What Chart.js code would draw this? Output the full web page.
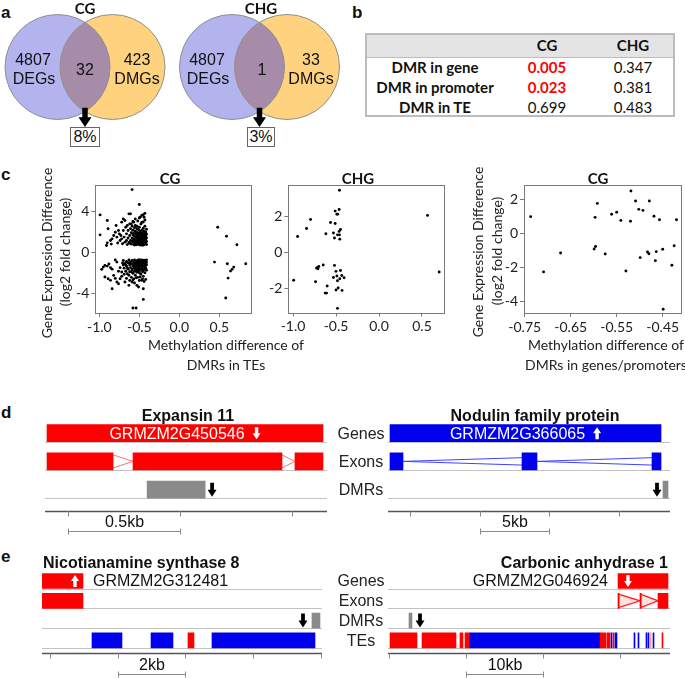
<!DOCTYPE html>
<html><head><meta charset="utf-8">
<script src="https://cdn.jsdelivr.net/npm/chart.js@4.4.0/dist/chart.umd.min.js"></script>
<style>
html,body{margin:0;padding:0;background:#fff;}
#root{position:relative;width:685px;height:679px;overflow:hidden;background:#fff;}
canvas{position:absolute;}
.t{position:absolute;white-space:nowrap;color:#111;}
.c{transform:translate(-50%,-50%);}
.r{transform:translate(-100%,-50%);}
.l{transform:translate(0,-50%);}
.box{position:absolute;border:1px solid #666;background:#fff;box-sizing:border-box;display:flex;align-items:center;justify-content:center;font:16px "Liberation Sans",Arial,sans-serif;color:#111;}
</style></head><body><div id="root"></div>
<script>
// ================= DATA =================
// Panel a (Venn)
const vennTitles = ['CG', 'CHG'];
const degCount = [4807, 4807];
const overlapCount = [32, 1];
const dmgCount = [423, 33];
const overlapPercent = ['8%', '3%'];

// Panel b (table of p-values)
const tableCols = ['CG', 'CHG'];
const tableRows = ['DMR in gene', 'DMR in promoter', 'DMR in TE'];
const pCG = [0.005, 0.023, 0.699];
const pCHG = [0.347, 0.381, 0.483];

// Panel c (scatter) [methylation difference, log2 fold change]
const cgTE = [
 [-0.59,6.17],[-0.50,4.71],[-0.99,3.70],[-0.90,3.15],[-0.89,2.34],[-0.99,1.75],[-0.90,0.97],[-0.91,0.71],[-0.84,1.36],[-0.82,1.69],
 [-0.80,2.01],[-0.79,2.66],[-0.76,2.18],[-0.74,1.20],[-0.72,2.99],[-0.70,3.31],[-0.68,3.15],[-0.73,1.69],[-0.65,2.66],[-0.63,3.80],
 [-0.61,3.80],[-0.60,2.82],[-0.57,2.99],[-0.55,2.66],[-0.53,2.34],[-0.47,3.64],[-0.45,3.72],[-0.43,3.85],[-0.49,3.47],[-0.44,3.47],
 [-0.86,1.20],[-0.78,1.53],[-0.77,0.95],[-0.85,0.85],[-0.75,1.85],[-0.72,1.36],[-0.71,0.88],[-0.70,2.18],[-0.69,1.53],[-0.68,1.04],
 [-0.67,2.50],[-0.66,1.85],[-0.66,1.20],[-0.65,0.80],[-0.64,2.18],[-0.64,1.45],[-0.63,1.00],[-0.62,2.82],[-0.62,1.69],[-0.61,2.34],
 [-0.61,1.20],[-0.60,0.85],[-0.60,1.95],[-0.59,2.60],[-0.59,1.45],[-0.58,1.04],[-0.58,1.75],[-0.58,2.20],[-0.57,0.80],[-0.57,1.36],
 [-0.57,1.90],[-0.56,1.10],[-0.56,1.60],[-0.56,2.45],[-0.55,0.90],[-0.55,1.25],[-0.55,1.85],[-0.55,2.10],[-0.54,0.78],[-0.54,1.50],
 [-0.54,1.00],[-0.54,2.00],[-0.53,1.15],[-0.53,1.70],[-0.53,0.85],[-0.53,2.60],[-0.52,1.40],[-0.52,0.95],[-0.52,1.95],[-0.52,1.20],
 [-0.51,0.80],[-0.51,1.60],[-0.51,2.25],[-0.51,1.05],[-0.50,1.30],[-0.50,1.85],[-0.50,0.90],[-0.50,2.50],[-0.49,1.10],[-0.49,1.55],
 [-0.49,0.75],[-0.49,2.05],[-0.48,1.35],[-0.48,0.95],[-0.48,1.75],[-0.48,2.80],[-0.47,1.15],[-0.47,1.50],[-0.47,0.82],[-0.47,2.20],
 [-0.46,1.00],[-0.46,1.65],[-0.46,1.28],[-0.46,1.95],[-0.45,0.88],[-0.45,1.40],[-0.45,2.40],[-0.45,1.10],[-0.44,1.80],[-0.44,1.20],
 [-0.44,0.78],[-0.44,1.55],[-0.44,2.10],[-0.43,1.00],[-0.43,1.35],[-0.43,1.70],[-0.43,2.60],[-0.42,0.90],[-0.42,1.25],[-0.42,1.60],
 [-0.42,2.00],[-0.42,1.90],[-0.41,1.10],[-0.41,1.45],[-0.41,1.80],[-0.41,0.80],[-0.41,2.30],[-0.45,3.00],[-0.43,3.20],[-0.47,2.95],
 [-0.52,3.10],[-0.55,3.30],[-0.58,3.05],[-0.50,3.40],[-0.57,1.20],[-0.53,1.45],[-0.49,1.80],[-0.46,0.72],[-0.51,1.35],[-0.56,0.75],
 [-0.59,1.15],[-0.62,0.92],[-0.44,1.00],[-0.48,1.20],[-0.52,1.70],[-0.45,1.70],[-0.42,1.40],[-0.47,1.90],
 [-0.97,-1.62],[-0.95,-1.40],[-0.93,-1.23],[-0.90,-1.30],[-0.86,-1.45],[-0.84,-1.60],[-0.80,-0.70],[-0.78,-0.91],[-0.93,-2.37],[-0.89,-2.53],
 [-0.86,-2.69],[-0.84,-3.51],[-0.82,-2.21],[-0.78,-2.86],[-0.76,-3.02],[-0.74,-2.53],[-0.72,-1.88],[-0.68,-2.86],[-0.63,-3.18],[-0.59,-2.86],
 [-0.53,-3.18],[-0.51,-3.34],[-0.45,-3.51],[-0.45,-4.55],[-0.47,-2.69],[-0.49,-2.37],[-0.58,-5.39],[-0.54,-5.39],[-0.88,-1.10],[-0.76,-1.80],
 [-0.70,-1.20],[-0.72,-2.30],[-0.66,-2.50],[-0.62,-2.70],[-0.56,-2.95],[-0.80,-2.50],[-0.74,-1.45],[-0.70,-0.75],[-0.69,-1.50],[-0.68,-1.05],
 [-0.67,-1.80],[-0.66,-0.85],[-0.66,-1.30],[-0.65,-2.05],[-0.64,-1.00],[-0.64,-1.60],[-0.63,-0.70],[-0.63,-2.20],[-0.62,-1.20],[-0.62,-1.85],
 [-0.61,-0.90],[-0.61,-1.45],[-0.60,-2.40],[-0.60,-1.10],[-0.59,-0.75],[-0.59,-1.65],[-0.58,-1.30],[-0.58,-2.00],[-0.57,-0.95],[-0.57,-1.50],
 [-0.57,-2.55],[-0.56,-0.70],[-0.56,-1.20],[-0.56,-1.80],[-0.55,-1.00],[-0.55,-1.40],[-0.55,-2.20],[-0.54,-0.80],[-0.54,-1.60],[-0.54,-1.15],
 [-0.53,-0.95],[-0.53,-1.90],[-0.53,-1.35],[-0.52,-0.72],[-0.52,-1.25],[-0.52,-1.70],[-0.52,-2.40],[-0.51,-1.05],[-0.51,-1.50],[-0.51,-0.85],
 [-0.50,-1.20],[-0.50,-1.95],[-0.50,-0.68],[-0.50,-1.40],[-0.49,-1.00],[-0.49,-1.70],[-0.49,-0.80],[-0.48,-1.30],[-0.48,-2.10],[-0.48,-0.95],
 [-0.47,-1.15],[-0.47,-1.55],[-0.47,-0.70],[-0.46,-1.85],[-0.46,-1.05],[-0.46,-1.40],[-0.45,-0.85],[-0.45,-1.25],[-0.45,-2.30],[-0.44,-1.00],
 [-0.44,-1.60],[-0.44,-0.72],[-0.43,-1.35],[-0.43,-0.90],[-0.43,-1.95],[-0.42,-1.10],[-0.42,-1.50],[-0.42,-0.78],[-0.42,-2.60],[-0.41,-1.20],
 [-0.41,-0.95],[-0.41,-1.70],[-0.41,-0.70],[-0.44,-2.80],[-0.46,-2.55],[-0.50,-2.70],[-0.54,-2.45],[-0.58,-2.65],[-0.65,-1.45],[-0.60,-1.85],
 [-0.53,-1.10],[-0.48,-1.60],[-0.45,-1.75],[-0.43,-1.20],[-0.49,-1.25],[-0.55,-1.70],[-0.57,-1.10],[-0.51,-1.80],[-0.47,-0.90],[-0.44,-1.30],
 [-0.62,-1.00],[-0.67,-1.20],[-0.69,-2.10],[-0.71,-1.00],
 [0.48,2.50],[0.59,1.62],[0.72,0.78],[0.44,-0.91],[0.60,-1.07],[0.83,-1.07],[0.68,-1.40],[0.66,-1.62],[0.64,-1.79],[0.61,-2.47],[0.58,-4.42]
];
const chgTE = [
 [-0.46,3.44],[-0.51,2.28],[-0.464,2.37],[-0.49,2.11],[-0.48,2.11],[-0.796,1.81],[-0.564,1.65],[-0.51,1.59],[-0.843,1.31],[-0.448,1.26],
 [-0.464,1.15],[-0.53,1.06],[-0.618,1.02],[-0.483,0.96],[-0.46,0.96],[-0.947,0.87],[-0.518,0.78],[-0.456,0.72],[0.564,2.04],[0.70,-1.11],
 [-0.518,-0.74],[-0.649,-0.72],[-0.70,-0.80],[-0.715,-0.85],[-0.727,-0.89],[-0.71,-0.93],[-0.50,-1.07],[-0.448,-1.02],[-0.433,-1.30],[-0.53,-1.41],
 [-0.49,-1.33],[-0.406,-1.43],[-0.456,-1.48],[-0.483,-1.59],[-0.993,-1.57],[-0.738,-1.65],[-0.603,-1.89],[-0.475,-2.00],[-0.50,-2.11],[-0.43,-2.13],
 [-0.626,-2.28],[-0.61,-2.28],[-0.483,-3.13]
];
const cgGene = [
 [-0.519,2.49],[-0.592,1.76],[-0.509,1.90],[-0.479,1.90],[-0.502,1.41],[-0.493,1.35],[-0.561,1.12],[-0.550,1.24],[-0.737,0.98],[-0.597,0.94],
 [-0.541,0.76],[-0.520,0.71],[-0.469,1.00],[-0.457,0.80],[-0.420,0.80],[-0.596,-0.78],[-0.599,-0.92],[-0.425,-0.73],[-0.672,-1.16],[-0.575,-1.22],
 [-0.483,-1.10],[-0.480,-1.20],[-0.464,-1.08],[-0.450,-0.94],[-0.499,-1.43],[-0.466,-1.61],[-0.430,-1.88],[-0.709,-2.27],[-0.530,-2.22],[-0.449,-4.47]
];
const cgTE_xTicks = [-1, -0.5, 0, 0.5];
const cgTE_yTicks = [-4, 0, 4];
const chgTE_xTicks = [-1, -0.5, 0, 0.5];
const chgTE_yTicks = [-2, 0, 2];
const cgGene_xTicks = [-0.75, -0.65, -0.55, -0.45];
const cgGene_yTicks = [-4, -2, 0, 2];

// Panels d, e (genome browser tracks, coordinates in bp)
const rowsD = ['Genes', 'Exons', 'DMRs'];
const rowsE = ['Genes', 'Exons', 'DMRs', 'TEs'];
const expansinBlocks = [['Genes',-94,1138,'red'],['Exons',-94,201,'red'],['Exons',290,955,'red'],['Exons',1013,1138,'red'],['DMRs',353,612,'gray']];
const expansinIntrons = [['Exons',201,290,'>'],['Exons',955,1013,'>']];
const expansinTicks = [0, 500, 1000];
const expansinScaleBar = [0, 500, '0.5kb'];
const noduBlocks = [['Genes',-1435,18006,'blue'],['Exons',-1435,-502,'blue'],['Exons',8034,9110,'blue'],['Exons',17360,18006,'blue'],['DMRs',18149,18508,'gray']];
const noduIntrons = [['Exons',-502,8034,'<'],['Exons',9110,17360,'<']];
const noduTicks = [0, 5000, 10000, 15000];
const noduScaleBar = [5000, 10000, '5kb'];
const nasBlocks = [['Genes',-236,974,'red'],['Exons',-236,974,'red'],['DMRs',7734,7970,'gray'],
 ['TEs',1240,2125,'blue'],['TEs',2982,3631,'blue'],['TEs',4074,4251,'red'],['TEs',4782,7823,'blue']];
const nasTicks = [0, 2000, 4000, 6000, 8000];
const nasScaleBar = [2000, 4000, '2kb'];
const caBlocks = [['Genes',29740,36234,'red'],['Exons',29740,29900,'red'],['Exons',32597,32760,'red'],['Exons',34935,36234,'red'],['DMRs',2597,2987,'gray'],
 ['TEs',130,3636,'red'],['TEs',4286,8701,'red'],['TEs',9221,9610,'red'],['TEs',9870,10519,'red'],['TEs',10519,27403,'blue'],
 ['TEs',27403,28182,'red'],['TEs',28312,28701,'red'],['TEs',28831,28961,'blue'],['TEs',29091,29221,'red'],['TEs',29351,29610,'blue'],
 ['TEs',31818,31948,'blue'],['TEs',32338,32468,'blue'],['TEs',33377,33507,'blue'],['TEs',33636,33766,'blue'],['TEs',33896,34026,'pink'],
 ['TEs',34286,34416,'blue'],['TEs',35454,35584,'red']];
const caIntrons = [['Exons',29900,32597,'>'],['Exons',32760,34935,'>']];
const caTicks = [0, 10000, 20000, 30000];
const caScaleBar = [10000, 20000, '10kb'];

// ================= HELPERS =================
Chart.defaults.font.family = 'Lato, "Liberation Sans", sans-serif';
Chart.defaults.color = '#222';
const ARIAL = '"Liberation Sans", Arial, sans-serif';
const LATO = 'Lato, "Liberation Sans", sans-serif';
const root = document.getElementById('root');
function mkCanvas(b){const c=document.createElement('canvas');c.width=b.w;c.height=b.h;c.style.left=b.l+'px';c.style.top=b.t+'px';c.style.width=b.w+'px';c.style.height=b.h+'px';root.appendChild(c);return c;}
function txt(s,x,y,o){o=o||{};const d=document.createElement('div');d.className='t '+(o.a||'c');d.textContent=s;
 d.style.font=(o.w||'normal')+' '+(o.s||16)+'px '+(o.f||ARIAL);d.style.lineHeight='1';d.style.left=x+'px';d.style.top=y+'px';
 if(o.col)d.style.color=o.col; if(o.rot)d.style.transform='translate(-50%,-50%) rotate(-90deg)'; root.appendChild(d);return d;}
function arrowPath(ctx,x,yc,w,h,dir,color){
 const sw=w*0.42,hl=h*0.5,tail=yc-dir*h/2,tip=yc+dir*h/2,base=tip-dir*hl;
 ctx.beginPath();ctx.moveTo(x-sw/2,tail);ctx.lineTo(x+sw/2,tail);ctx.lineTo(x+sw/2,base);ctx.lineTo(x+w/2,base);
 ctx.lineTo(x,tip);ctx.lineTo(x-w/2,base);ctx.lineTo(x-sw/2,base);ctx.closePath();ctx.fillStyle=color;ctx.fill();}
function line(ctx,x1,y1,x2,y2){ctx.beginPath();ctx.moveTo(x1,y1);ctx.lineTo(x2,y2);ctx.stroke();}
const baseOpts = {responsive:false, animation:false, events:[], devicePixelRatio:1,
 plugins:{legend:{display:false},tooltip:{enabled:false},title:{display:false}}};

// ================= PANEL LABELS =================
txt('a',1,12,{a:'l',w:'bold',s:17}); txt('b',352,12,{a:'l',w:'bold',s:17});
txt('c',1,174,{a:'l',w:'bold',s:17}); txt('d',1,412,{a:'l',w:'bold',s:17}); txt('e',1,556,{a:'l',w:'bold',s:17});

// ================= PANEL A: VENN =================
(function(){
 const box={l:0,t:0,w:345,h:160};
 const centers=[[57.5,112.5],[232,287]], cy=67, R=52.5;
 const BLUE='#b3b3ee', ORANGE='#fed27f', LENS='#a68ca8';
 const pts=[];
 centers.forEach(c=>{pts.push({x:c[0],y:cy,r:R,c:BLUE});pts.push({x:c[1],y:cy,r:R,c:ORANGE});});
 const plug={id:'venn',afterDatasetsDraw(chart){
   const ctx=chart.ctx,xs=chart.scales.x,ys=chart.scales.y;
   centers.forEach(c=>{
     const bx=xs.getPixelForValue(c[0]),ox=xs.getPixelForValue(c[1]),y=ys.getPixelForValue(cy);
     const rp=Math.abs(xs.getPixelForValue(R)-xs.getPixelForValue(0));
     ctx.save();ctx.beginPath();ctx.arc(bx,y,rp,0,Math.PI*2);ctx.clip();
     ctx.beginPath();ctx.arc(ox,y,rp,0,Math.PI*2);ctx.fillStyle=LENS;ctx.fill();ctx.restore();
     ctx.save();ctx.strokeStyle='#8f8f8f';ctx.lineWidth=1;
     ctx.beginPath();ctx.arc(bx,y,rp,0,Math.PI*2);ctx.stroke();
     ctx.beginPath();ctx.arc(ox,y,rp,0,Math.PI*2);ctx.stroke();ctx.restore();
     const mx=(bx+ox)/2, d=(ox-bx)/2, ly=y+Math.sqrt(rp*rp-d*d);
     const tip=127, top=ly-4;
     arrowPath(ctx,mx,(top+tip)/2,13,tip-top,1,'#000');
   });
 }};
 new Chart(mkCanvas(box),{type:'bubble',
   data:{datasets:[{data:pts,backgroundColor:ctx=>ctx.raw?ctx.raw.c:'#ccc',borderWidth:0,hoverRadius:0,clip:false}]},
   options:Object.assign({},baseOpts,{layout:{padding:0,autoPadding:false},scales:{x:{type:'linear',display:false,min:0,max:345},y:{type:'linear',display:false,min:0,max:160,reverse:true}}}),
   plugins:[plug]});
 const tx=[[33,85,137],[207,262,311]];
 [0,1].forEach(i=>{
   txt(vennTitles[i],[85,261][i],8,{w:'bold',s:15,f:LATO});
   txt(String(degCount[i]),tx[i][0],60); txt('DEGs',tx[i][0]+1,78.5);
   txt(String(overlapCount[i]),tx[i][1],70);
   txt(String(dmgCount[i]),tx[i][2],60); txt('DMGs',tx[i][2],78.5);
   const b=document.createElement('div');b.className='box';b.textContent=overlapPercent[i];
   const bl=[70,247][i], bw=[30,28][i];
   b.style.left=bl+'px';b.style.top='127px';b.style.width=bw+'px';b.style.height='20px';root.appendChild(b);
 });
})();

// ================= PANEL B: TABLE =================
(function(){
 const t=document.createElement('div');
 Object.assign(t.style,{position:'absolute',left:'365px',top:'33px',width:'310px',height:'84px',border:'2px solid #bcbcbc',boxSizing:'border-box'});
 root.appendChild(t);
 const h=document.createElement('div');
 Object.assign(h.style,{position:'absolute',left:'0',top:'0',right:'0',height:'22px',background:'#e4e4e4',borderBottom:'1px solid #bcbcbc'});
 t.appendChild(h);
 const colX=[547,633], rowY=[67,87,107];
 tableCols.forEach((c,i)=>txt(c,colX[i],45,{w:'bold',s:15,f:LATO}));
 tableRows.forEach((r,j)=>{
   txt(r,435,rowY[j],{w:'bold',s:15,f:LATO});
   [pCG,pCHG].forEach((arr,i)=>{const sig=arr[j]<0.05;
     txt(arr[j].toFixed(3),colX[i],rowY[j],{w:sig?'bold':'normal',s:15,f:LATO,col:sig?'#ff0000':'#111'});});
 });
})();

// ================= PANEL C: SCATTERS =================
function scatter(box,area,pts,xr,yr,xt,yt,xdec){
 const XH=30, AX='#7a7a7a';
 const plug={id:'frame',afterDatasetsDraw(chart){const c=chart.ctx,A=chart.chartArea;c.save();c.strokeStyle=AX;c.lineWidth=1;
   c.strokeRect(Math.round(A.left)+0.5,Math.round(A.top)+0.5,Math.round(A.right)-Math.round(A.left),Math.round(A.bottom)-Math.round(A.top));c.restore();}};
 const tickFont={family:LATO,size:14};
 new Chart(mkCanvas(box),{type:'scatter',
  data:{datasets:[{data:pts.map(p=>({x:p[0],y:p[1]})),pointRadius:1.45,pointBackgroundColor:'#000',pointBorderWidth:0,pointHoverRadius:0}]},
  options:Object.assign({},baseOpts,{
   layout:{padding:{left:0,top:area.t-box.t,right:box.l+box.w-area.r,bottom:box.t+box.h-area.b-XH},autoPadding:false},
   scales:{
    x:{type:'linear',min:xr[0],max:xr[1],afterBuildTicks:s=>{s.ticks=xt.map(v=>({value:v}));},afterFit:s=>{s.height=XH;},
       ticks:{callback:v=>Number(v).toFixed(xdec),autoSkip:false,maxRotation:0,minRotation:0,padding:2,color:'#222',font:tickFont},
       grid:{display:true,drawOnChartArea:false,drawTicks:true,tickLength:4,color:AX},border:{display:false}},
    y:{type:'linear',min:yr[0],max:yr[1],afterBuildTicks:s=>{s.ticks=yt.map(v=>({value:v}));},afterFit:s=>{s.width=area.l-box.l;},
       ticks:{callback:v=>String(v),autoSkip:false,padding:2,color:'#222',font:tickFont},
       grid:{display:true,drawOnChartArea:false,drawTicks:true,tickLength:4,color:AX},border:{display:false}}
   }}),
  plugins:[plug]});
}
scatter({l:50,t:175,w:215,h:175},{l:95.3,t:185.3,r:251,b:313},cgTE,[-1.05,0.896],[-5.88,6.58],cgTE_xTicks,cgTE_yTicks,1);
scatter({l:262,t:175,w:190,h:175},{l:288.3,t:185.3,r:444,b:312.5},chgTE,[-1.055,0.756],[-3.36,3.71],chgTE_xTicks,chgTE_yTicks,1);
scatter({l:490,t:175,w:195,h:175},{l:524,t:185.3,r:680.5,b:313},cgGene,[-0.7515,-0.4113],[-4.69,2.82],cgGene_xTicks,cgGene_yTicks,2);
txt('CG',170,178,{w:'bold',s:15,f:LATO}); txt('CHG',358,178,{w:'bold',s:15,f:LATO}); txt('CG',598,178,{w:'bold',s:15,f:LATO});
txt('Gene Expression Difference',47,253,{s:14,f:LATO,rot:true,col:'#222'});
txt('(log2 fold change)',65,252,{s:14,f:LATO,rot:true,col:'#222'});
txt('Gene Expression Difference',478,252,{s:14,f:LATO,rot:true,col:'#222'});
txt('(log2 fold change)',497,251,{s:14,f:LATO,rot:true,col:'#222'});
txt('Methylation difference of',226,345,{s:14,f:LATO,col:'#222'}); txt('DMRs in TEs',226,365,{s:14,f:LATO,col:'#222'});
txt('Methylation difference of',606,345,{s:14,f:LATO,col:'#222'}); txt('DMRs in genes/promoters',606,365,{s:14,f:LATO,col:'#222'});

// ================= PANELS D, E: TRACKS =================
const COLORS={red:'#ff0000',blue:'#0000ee',gray:'#8a8a8a',pink:'#ff9c9c'};
function track(box,area,spec,st){
 const data=spec.blocks.map(b=>({y:b[0],x:[b[1],b[2]],c:COLORS[b[3]]}));
 const plug={id:'track',
  beforeDatasetsDraw(chart){
   const ctx=chart.ctx,A=chart.chartArea,xs=chart.scales.x,ys=chart.scales.y;
   ctx.save();ctx.strokeStyle='#c2c2c2';ctx.lineWidth=1;
   spec.rows.forEach((r,i)=>{const y=Math.round(ys.getPixelForValue(i)+st.thick/2)+0.5;line(ctx,A.left,y,A.right,y);});
   (spec.introns||[]).forEach(([row,s,e,shape])=>{
     const y=ys.getPixelForValue(spec.rows.indexOf(row)),x1=xs.getPixelForValue(s),x2=xs.getPixelForValue(e),h=st.intronHalf;
     ctx.beginPath();
     if(shape==='>'){ctx.moveTo(x1,y-h);ctx.lineTo(x2,y);ctx.lineTo(x1,y+h);}else{ctx.moveTo(x2,y-h);ctx.lineTo(x1,y);ctx.lineTo(x2,y+h);}
     if(st.intronFill){ctx.fillStyle=st.intronFill;ctx.fill();}
     ctx.strokeStyle=st.intronColor;ctx.lineWidth=st.intronWidth;ctx.stroke();
   });
   ctx.restore();
  },
  afterDatasetsDraw(chart){
   const ctx=chart.ctx,A=chart.chartArea,xs=chart.scales.x,ys=chart.scales.y;
   const rowY=r=>ys.getPixelForValue(spec.rows.indexOf(r));
   ctx.save();
   ctx.font='16px '+ARIAL;ctx.textBaseline='middle';
   const g=spec.gene,gy=rowY('Genes');
   if(g.mode==='center'){
     const gb=spec.blocks.find(b=>b[0]==='Genes');
     const cx=(xs.getPixelForValue(gb[1])+xs.getPixelForValue(gb[2]))/2;
     const tw=ctx.measureText(g.text).width,aw=8,gap=8,x0=cx-(tw+gap+aw)/2;
     ctx.fillStyle=g.color;ctx.textAlign='left';ctx.fillText(g.text,x0,gy+1);
     arrowPath(ctx,x0+tw+gap+aw/2,gy,aw,12,g.dir,g.color);
   } else {
     ctx.fillStyle=g.color;ctx.textAlign=g.mode;ctx.fillText(g.text,xs.getPixelForValue(g.at),gy+1);
     arrowPath(ctx,xs.getPixelForValue(g.arrowAt),gy,8,12,g.dir,'#fff');
   }
   spec.dmrArrows.forEach(([row,pos,dir])=>arrowPath(ctx,xs.getPixelForValue(pos),rowY(row),9,14,dir,'#000'));
   const ay=Math.round(A.bottom+st.axisOff)+0.5;
   ctx.strokeStyle='#555';ctx.lineWidth=1.5;line(ctx,A.left,ay,A.right,ay);
   ctx.strokeStyle='#8a8a8a';ctx.lineWidth=1;
   spec.ticks.forEach(v=>{const x=Math.round(xs.getPixelForValue(v))+0.5;line(ctx,x,ay,x,ay+5);});
   const [bs,be,bl]=spec.bar,bx1=Math.round(xs.getPixelForValue(bs))+0.5,bx2=Math.round(xs.getPixelForValue(be))+0.5,by=Math.round(ay+st.barOff)+0.5;
   line(ctx,bx1,by,bx2,by);line(ctx,bx1,by-3,bx1,by+3);line(ctx,bx2,by-3,bx2,by+3);
   ctx.fillStyle='#111';ctx.textAlign='center';ctx.fillText(bl,(bx1+bx2)/2,ay+st.labOff);
   if(st.labelX!=null){ctx.fillStyle='#222';spec.rows.forEach(r=>ctx.fillText(r,st.labelX-box.l,rowY(r)+1));}
   ctx.restore();
  }};
 new Chart(mkCanvas(box),{type:'bar',
  data:{labels:spec.rows,datasets:[{data:data,backgroundColor:c=>c.raw?c.raw.c:'#000',borderWidth:0,barThickness:st.thick}]},
  options:Object.assign({},baseOpts,{indexAxis:'y',
   layout:{padding:{left:area.l-box.l,right:box.l+box.w-area.r,top:area.t-box.t,bottom:box.t+box.h-area.b},autoPadding:false},
   scales:{x:{type:'linear',display:false,min:spec.xMin,max:spec.xMax},y:{type:'category',display:false,labels:spec.rows,offset:true}}}),
  plugins:[plug]});
}
const stD={thick:17,axisOff:7.25,barOff:19,labOff:11,intronWidth:1};
track({l:40,t:400,w:295,h:140},{l:45,r:327,t:419,b:503.75},
 {rows:rowsD,xMin:-103,xMax:1156,blocks:expansinBlocks,introns:expansinIntrons,ticks:expansinTicks,bar:expansinScaleBar,
  gene:{text:'GRMZM2G450546',mode:'center',dir:1,color:'#fff'},dmrArrows:[['DMRs',643,1]]},
 Object.assign({},stD,{intronHalf:6.5,intronColor:'#ff7070'}));
track({l:335,t:400,w:350,h:140},{l:388,r:670,t:419,b:503.75},
 {rows:rowsD,xMin:-1578,xMax:18651,blocks:noduBlocks,introns:noduIntrons,ticks:noduTicks,bar:noduScaleBar,
  gene:{text:'GRMZM2G366065',mode:'center',dir:-1,color:'#fff'},dmrArrows:[['DMRs',17719,1]]},
 Object.assign({},stD,{intronHalf:3.7,intronColor:'#4040ff',labelX:361}));
const stE={thick:15,axisOff:3,barOff:20,labOff:11.7,intronWidth:1.3};
track({l:37,t:545,w:295,h:134},{l:42,r:322,t:571.1,b:650.3},
 {rows:rowsE,xMin:-236,xMax:8030,blocks:nasBlocks,introns:[],ticks:nasTicks,bar:nasScaleBar,
  gene:{text:'GRMZM2G312481',mode:'left',at:1269,arrowAt:738,dir:-1,color:'#111'},dmrArrows:[['DMRs',7469,1]]},
 Object.assign({},stE,{intronHalf:6,intronColor:'#ff3030'}));
track({l:335,t:545,w:350,h:134},{l:388,r:670,t:571.1,b:650.3},
 {rows:rowsE,xMin:-130,xMax:36494,blocks:caBlocks,introns:caIntrons,ticks:caTicks,bar:caScaleBar,
  gene:{text:'GRMZM2G046924',mode:'right',at:28442,arrowAt:31039,dir:1,color:'#111'},dmrArrows:[['DMRs',4026,1]]},
 Object.assign({},stE,{intronHalf:6.5,intronColor:'#ff2020',intronFill:'#ffe0e0',labelX:361}));
txt('Expansin 11',188,415.5,{w:'bold',s:16}); txt('Nodulin family protein',535,415.5,{w:'bold',s:16});
txt('Nicotianamine synthase 8',43,563,{a:'l',w:'bold',s:16}); txt('Carbonic anhydrase 1',668,563,{a:'r',w:'bold',s:16});
</script></body></html>
